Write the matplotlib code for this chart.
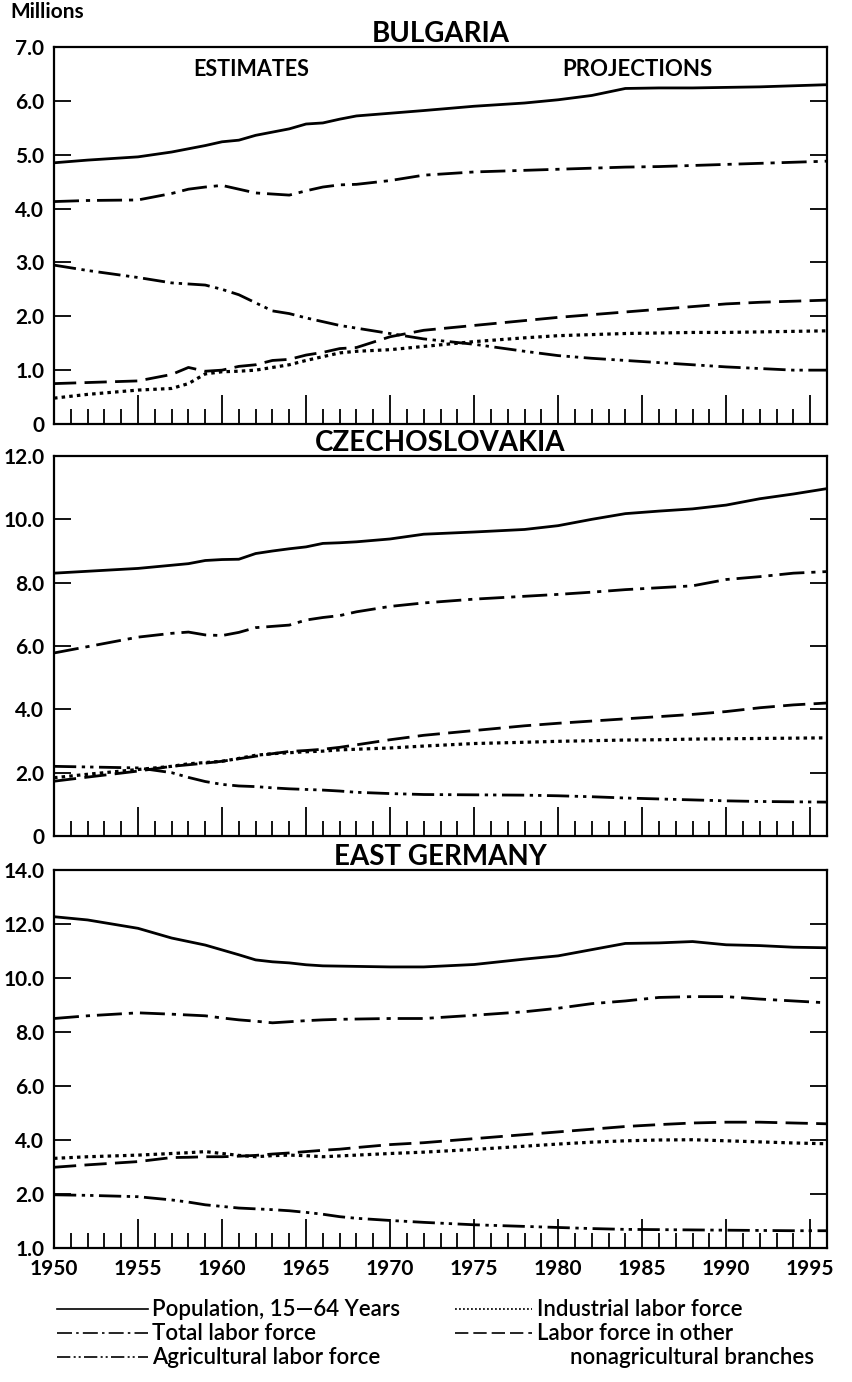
import numpy as np
import matplotlib
matplotlib.use("Agg")
from matplotlib import pyplot as plt

plt.rcParams['font.family'] = ['Lato', 'DejaVu Sans']

years = [1950, 1952, 1955, 1957, 1958, 1959, 1960, 1961, 1962, 1963, 1964,
         1965, 1966, 1967, 1968, 1970, 1972, 1975, 1978, 1980, 1982, 1984,
         1986, 1988, 1990, 1992, 1994, 1996]

# Bulgaria (millions)
bg_pop = [4.85, 4.9, 4.96, 5.05, 5.11, 5.17, 5.24, 5.27, 5.36, 5.42, 5.48,
          5.57, 5.59, 5.66, 5.72, 5.77, 5.82, 5.9, 5.96, 6.02, 6.1, 6.23,
          6.24, 6.24, 6.25, 6.26, 6.28, 6.3]
bg_total = [4.13, 4.15, 4.16, 4.28, 4.36, 4.4, 4.43, 4.36, 4.29, 4.27, 4.25,
            4.33, 4.4, 4.44, 4.45, 4.52, 4.62, 4.68, 4.71, 4.73, 4.75, 4.77,
            4.78, 4.8, 4.82, 4.84, 4.86, 4.88]
bg_agri = [2.95, 2.85, 2.72, 2.62, 2.6, 2.58, 2.5, 2.4, 2.25, 2.1, 2.05,
           1.97, 1.9, 1.83, 1.78, 1.68, 1.58, 1.48, 1.35, 1.27, 1.22, 1.18,
           1.14, 1.1, 1.06, 1.03, 1.0, 1.0]
bg_ind = [0.48, 0.55, 0.63, 0.66, 0.75, 0.93, 0.97, 0.98, 1.0, 1.05, 1.1,
          1.18, 1.25, 1.32, 1.35, 1.38, 1.44, 1.53, 1.6, 1.64, 1.66, 1.68,
          1.69, 1.7, 1.7, 1.71, 1.72, 1.73]
bg_other = [0.75, 0.77, 0.8, 0.92, 1.05, 0.98, 1.0, 1.07, 1.1, 1.18, 1.2,
            1.28, 1.33, 1.4, 1.42, 1.62, 1.74, 1.83, 1.92, 1.98, 2.03, 2.08,
            2.13, 2.18, 2.23, 2.26, 2.28, 2.3]

# Czechoslovakia
cs_pop = [8.3, 8.36, 8.45, 8.55, 8.6, 8.7, 8.73, 8.74, 8.92, 9.0, 9.07,
          9.13, 9.24, 9.26, 9.29, 9.38, 9.53, 9.6, 9.68, 9.8, 10.0, 10.18,
          10.26, 10.33, 10.45, 10.65, 10.8, 10.97]
cs_total = [5.78, 5.98, 6.28, 6.4, 6.44, 6.35, 6.33, 6.43, 6.58, 6.62, 6.66,
            6.82, 6.9, 6.96, 7.08, 7.25, 7.36, 7.48, 7.57, 7.63, 7.7, 7.78,
            7.84, 7.9, 8.1, 8.19, 8.3, 8.35]
cs_agri = [2.2, 2.18, 2.15, 2.0, 1.85, 1.72, 1.63, 1.58, 1.56, 1.52, 1.49,
           1.47, 1.45, 1.42, 1.38, 1.34, 1.31, 1.3, 1.29, 1.27, 1.24, 1.2,
           1.17, 1.14, 1.11, 1.09, 1.08, 1.07]
cs_ind = [1.84, 1.95, 2.1, 2.2, 2.28, 2.32, 2.36, 2.45, 2.55, 2.6, 2.63,
          2.66, 2.68, 2.72, 2.74, 2.78, 2.84, 2.92, 2.96, 2.99, 3.01, 3.03,
          3.04, 3.06, 3.07, 3.08, 3.09, 3.1]
cs_other = [1.73, 1.86, 2.05, 2.2, 2.25, 2.3, 2.36, 2.44, 2.52, 2.6, 2.67,
            2.7, 2.74, 2.8, 2.88, 3.04, 3.18, 3.33, 3.48, 3.56, 3.63, 3.7,
            3.77, 3.84, 3.93, 4.05, 4.14, 4.2]

# East Germany
eg_pop = [12.27, 12.15, 11.84, 11.48, 11.35, 11.22, 11.04, 10.86, 10.67, 10.6,
          10.56, 10.49, 10.45, 10.44, 10.43, 10.41, 10.41, 10.5, 10.7, 10.82,
          11.05, 11.28, 11.3, 11.35, 11.23, 11.2, 11.14, 11.12]
eg_total = [8.5, 8.6, 8.71, 8.66, 8.63, 8.6, 8.52, 8.45, 8.4, 8.34, 8.38,
            8.42, 8.45, 8.47, 8.48, 8.5, 8.5, 8.62, 8.75, 8.88, 9.05, 9.15,
            9.28, 9.31, 9.31, 9.22, 9.15, 9.08]
eg_agri = [1.97, 1.95, 1.9, 1.78, 1.7, 1.6, 1.54, 1.48, 1.45, 1.42, 1.38,
           1.32, 1.25, 1.16, 1.1, 1.02, 0.95, 0.86, 0.8, 0.76, 0.72, 0.69,
           0.68, 0.67, 0.66, 0.65, 0.64, 0.64]
eg_ind = [3.32, 3.38, 3.44, 3.5, 3.53, 3.57, 3.5, 3.43, 3.38, 3.42, 3.44,
          3.42, 3.38, 3.41, 3.44, 3.5, 3.55, 3.65, 3.77, 3.85, 3.92, 3.97,
          4.0, 4.01, 3.97, 3.93, 3.89, 3.86]
eg_other = [2.99, 3.08, 3.2, 3.35, 3.36, 3.38, 3.38, 3.4, 3.43, 3.48, 3.52,
            3.57, 3.62, 3.66, 3.72, 3.83, 3.9, 4.05, 4.2, 4.3, 4.4, 4.5,
            4.57, 4.63, 4.66, 4.66, 4.63, 4.6]

countries = ["BULGARIA", "CZECHOSLOVAKIA", "EAST GERMANY"]
ytick_vals = [[0, 1, 2, 3, 4, 5, 6, 7],
              [0, 2, 4, 6, 8, 10, 12],
              [0, 2, 4, 6, 8, 10, 12, 14]]
ytick_labels = [["0", "1.0", "2.0", "3.0", "4.0", "5.0", "6.0", "7.0"],
                ["0", "2.0", "4.0", "6.0", "8.0", "10.0", "12.0"],
                ["1.0", "2.0", "4.0", "6.0", "8.0", "10.0", "12.0", "14.0"]]
xtick_years = [1950, 1955, 1960, 1965, 1970, 1975, 1980, 1985, 1990, 1995]

series_names = ["Population, 15\u201464 Years", "Total labor force",
                "Agricultural labor force", "Industrial labor force",
                "Labor force in other"]
styles = ["-", (0, (9, 2.5, 1.5, 2.5)), (0, (8, 2, 1.2, 1.8, 1.2, 2)),
          (0, (1.1, 1.3)), (0, (8, 3))]

data = [[bg_pop, bg_total, bg_agri, bg_ind, bg_other],
        [cs_pop, cs_total, cs_agri, cs_ind, cs_other],
        [eg_pop, eg_total, eg_agri, eg_ind, eg_other]]

W, H = 853, 1382
fig = plt.figure(figsize=(W / 100, H / 100), dpi=100)

boxes = [(47, 424), (456, 836), (870, 1248)]
left, right = 54, 827

for i, (top, bot) in enumerate(boxes):
    ax = fig.add_axes([left / W, 1 - bot / H, (right - left) / W, (bot - top) / H])
    for j, vals in enumerate(data[i]):
        ax.plot(years, vals, linestyle=styles[j], color="black",
                lw=2.3 if j == 3 else 2.0, dash_capstyle="butt")
    ymax = ytick_vals[i][-1]
    ax.set_xlim(1950, 1996)
    ax.set_ylim(0, ymax)
    ax.set_yticks(ytick_vals[i])
    ax.set_yticklabels(ytick_labels[i], fontsize=15, fontweight="bold")
    ax.tick_params(axis="y", direction="in", length=12, width=1.3,
                   left=True, right=True, pad=7)
    ax.set_xticks(xtick_years)
    ax.set_xticks(range(1951, 1996), minor=True)
    ax.tick_params(axis="x", which="major", direction="in", length=21, width=1.3)
    ax.tick_params(axis="x", which="minor", direction="in", length=11, width=1.3)
    if i == 2:
        ax.set_xticklabels([str(y) for y in xtick_years], fontsize=15,
                           fontweight="bold")
        ax.tick_params(axis="x", which="major", pad=8)
    else:
        ax.set_xticklabels([])
    for s in ax.spines.values():
        s.set_linewidth(1.6)
    ax.set_title(countries[i], fontsize=20, fontweight="bold", pad=1)
    if i == 0:
        ax.text(0.255, 0.94, "ESTIMATES", transform=ax.transAxes, ha="center",
                va="center", fontsize=15.5, fontweight="bold")
        ax.text(0.755, 0.94, "PROJECTIONS", transform=ax.transAxes, ha="center",
                va="center", fontsize=16, fontweight="bold")

fig.text(10 / W, 1 - 12 / H, "Millions", fontsize=15, fontweight="bold",
         va="center", ha="left")

# legend drawn in figure pixel coordinates
lg = fig.add_axes([0, 0, 1, 1], zorder=-1)
lg.set_xlim(0, W)
lg.set_ylim(H, 0)
lg.axis("off")
rows = [1309, 1333, 1357]
entries = [(57, 148, 152, rows[0]), (57, 148, 152, rows[1]), (57, 148, 152, rows[2]),
           (455, 532, 537, rows[0]), (455, 532, 537, rows[1])]
for j, (x0, x1, xt, yy) in enumerate(entries):
    lg.plot([x0, x1], [yy, yy], linestyle=styles[j], color="black", lw=1.2)
    lg.text(xt, yy, series_names[j], fontsize=16, fontweight="semibold",
            va="center", ha="left")
lg.text(570, rows[2], "nonagricultural branches", fontsize=16,
        fontweight="semibold", va="center", ha="left")

fig.savefig("out.png", dpi=100)
